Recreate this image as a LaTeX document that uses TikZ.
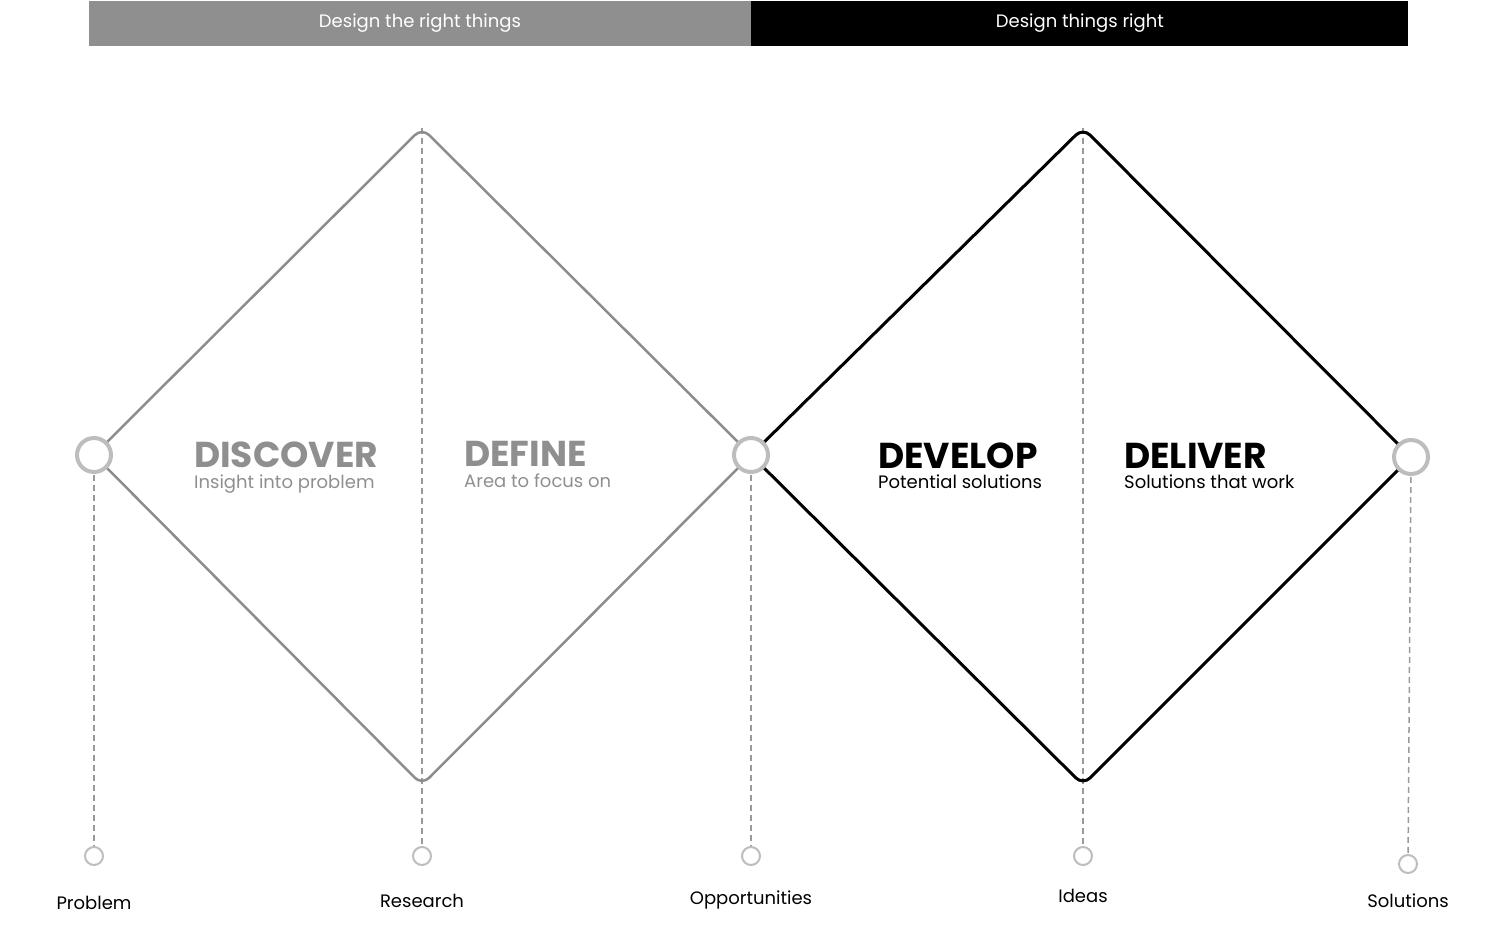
\documentclass[tikz,border=0pt]{standalone}
\usepackage{fontspec}
\setmainfont{Poppins}
\usetikzlibrary{positioning}

\definecolor{barGray}{HTML}{8F8F8F}
\definecolor{lineGray}{HTML}{8C8C8C}
\definecolor{ringGray}{HTML}{BDBDBD}
\definecolor{dashGray}{HTML}{9A9A9A}

\begin{document}
\begin{tikzpicture}[
		x=1pt, y=-1pt,
		bar/.style={ % banner across the top
				inner sep=0pt, minimum height=45pt, text=white,
				font=\fontsize{18}{20}\selectfont
			},
		bigring/.style={circle, draw=ringGray, line width=4pt, fill=white, minimum size=34pt, inner sep=0pt},
		smallring/.style={circle, draw=ringGray, line width=2pt, fill=white, minimum size=18pt, inner sep=0pt},
		guide/.style={draw=dashGray, line width=1.5pt, dash pattern=on 6pt off 4pt},
		phase/.style={anchor=base west, inner sep=0pt, font=\fontsize{36}{40}\selectfont\bfseries},
		phasesub/.style={inner sep=0pt, font=\fontsize{18}{20}\selectfont},
		tag/.style={anchor=base, inner sep=0pt, font=\fontsize{18}{20}\selectfont}
	]
	\useasboundingbox (0,0) rectangle (1502,928);
	% banner
	\node[bar, fill=barGray, minimum width=662pt] (right things) at (420,23.5) {Design the right things};
	\node[bar, fill=black, minimum width=657pt, right=0pt of right things] (things right) {Design things right};
	% corners of the two diamonds
	\coordinate (c0) at (94,455);
	\coordinate (c1) at (751,455);
	\coordinate (c2) at (1411,457);
	\coordinate (t1) at (422,128);
	\coordinate (b1) at (422,785);
	\coordinate (t2) at (1083,128);
	\coordinate (b2) at (1083,785);
	% end points below
	\node[smallring] (s1) at (94,856) {};
	\node[smallring] (s2) at (422,856) {};
	\node[smallring] (s3) at (751,856) {};
	\node[smallring] (s4) at (1083,856) {};
	\node[smallring] (s5) at (1408,864) {};
	% dashed guides
	\draw[guide] (c0) -- (s1);
	\draw[guide] (t1) -- (s2);
	\draw[guide] (c1) -- (s3);
	\draw[guide] (t2) -- (s4);
	\draw[guide] (c2) -- (s5);
	% diamonds
	\draw[lineGray, line width=2.5pt, rounded corners=10pt, line join=round]
	(c0) -- (t1) -- (c1) -- (b1) -- cycle;
	\draw[black, line width=3pt, rounded corners=10pt, line join=round]
	(c1) -- (t2) -- (c2) -- (b2) -- cycle;
	\node[bigring] (p0) at (c0) {};
	\node[bigring] (p1) at (c1) {};
	\node[bigring] (p2) at (c2) {};
	% phases
	\node[phase, text=barGray] (discover) at (194,467) {DISCOVER};
	\node[phasesub, text=barGray, below=21pt of discover.base west, anchor=base west] (discover sub) {Insight into problem};
	\node[phase, text=barGray] (define) at (464,466) {DEFINE};
	\node[phasesub, text=barGray, below=21pt of define.base west, anchor=base west] (define sub) {Area to focus on};
	\node[phase] (develop) at (878,468) {DEVELOP};
	\node[phasesub, below=20pt of develop.base west, anchor=base west] (develop sub) {Potential solutions};
	\node[phase] (deliver) at (1124,468) {DELIVER};
	\node[phasesub, below=20pt of deliver.base west, anchor=base west] (deliver sub) {Solutions that work};
	% labels under the end points
	\node[tag, below=43pt of s1, anchor=base] (problem) {Problem};
	\node[tag, below=41pt of s2, anchor=base] (research) {Research};
	\node[tag, below=38pt of s3, anchor=base] (opportunities) {Opportunities};
	\node[tag, below=36pt of s4, anchor=base] (ideas) {Ideas};
	\node[tag, below=33pt of s5, anchor=base] (solutions) {Solutions};
\end{tikzpicture}
\end{document}
